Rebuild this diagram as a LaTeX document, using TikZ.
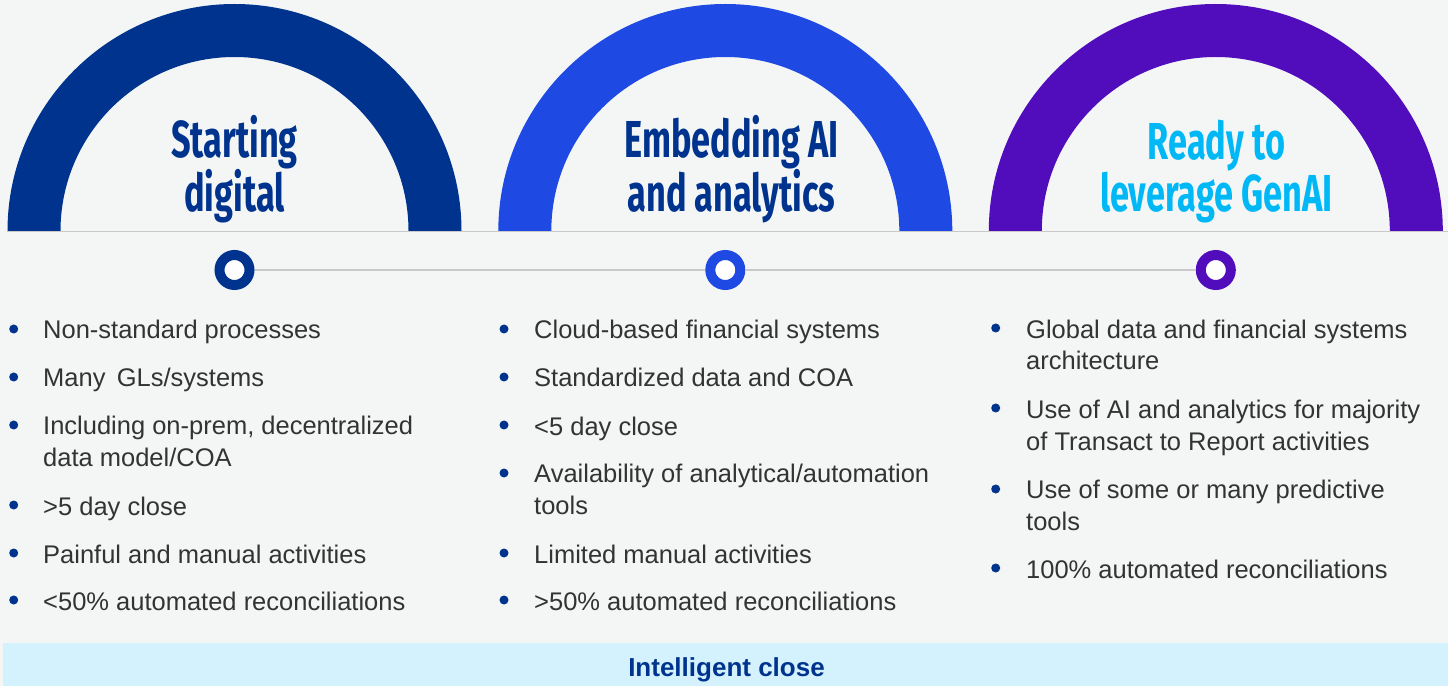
\documentclass[tikz,border=0pt]{standalone}
\usepackage{fontspec}
\setmainfont{Liberation Sans}
\newfontfamily\titlefont{Fira Sans}[FakeStretch=0.66]
\definecolor{bgc}{HTML}{F4F6F6}
\definecolor{bandc}{HTML}{D4F2FD}
\definecolor{cA}{HTML}{00338D}
\definecolor{cB}{HTML}{1E49E2}
\definecolor{cC}{HTML}{510DBC}
\definecolor{cyanT}{HTML}{00B8F5}
\definecolor{txt}{HTML}{333333}
\definecolor{rule}{HTML}{C9C9C9}
\tikzset{
  ring/.style={circle, minimum size=30pt, inner sep=0pt, line width=10pt, fill=white},
  title/.style={font=\titlefont\bfseries\fontsize{52}{48}\selectfont, align=center, anchor=base, inner sep=0pt},
  item/.style={font=\fontsize{25.5}{31.8}\selectfont, text=txt, align=left, anchor=base west, inner sep=0pt},
  graylink/.style={draw=rule, line width=1.5pt},
  dotb/.style={fill=cA}
}
\begin{document}
\begin{tikzpicture}[x=1pt,y=1pt]
\useasboundingbox (0,0) rectangle (1448,686);
\fill[bgc] (0,0) rectangle (1448,686);
% arcs
\fill[cA] (7.5,455) arc[start angle=180,end angle=0,radius=227] -- (408.5,455) arc[start angle=0,end angle=180,radius=174] -- cycle;
\fill[cB] (498.3,455) arc[start angle=180,end angle=0,radius=227] -- (899.3,455) arc[start angle=0,end angle=180,radius=174] -- cycle;
\fill[cC] (988.8,455) arc[start angle=180,end angle=0,radius=227] -- (1389.8,455) arc[start angle=0,end angle=180,radius=174] -- cycle;
% baseline rule
\coordinate (ruleL) at (7,454.5);
\coordinate (ruleR) at (1448,454.5);
\draw[graylink] (ruleL) -- (ruleR);
% titles (base anchor = last line baseline)
\node[title, text=cA] (t1) at (234.5,474) {Starting\\digital};
\node[title, text=cA] (t2) at (731.5,474) {Embedding AI\\and analytics};
\node[title, text=cyanT] (t3) at (1216.5,474) {Ready to\\leverage GenAI};
% timeline
\node[ring, draw=cA] (p1) at (234.5,416) {};
\node[ring, draw=cB] (p2) at (725.3,416) {};
\node[ring, draw=cC] (p3) at (1215.8,416) {};
\draw[graylink] (p1) -- (p2);
\draw[graylink] (p2) -- (p3);
% column 1
\foreach \y in {347,299,251,171,123,76} {\fill[dotb] (13.7,\y+10) circle (4.5);}
\node[item] (a1) at (43,347) {Non-standard processes};
\node[item] (a2) at (43,299) {Many\, GLs/systems};
\node[item] (a3) at (43,219.5) {Including on-prem, decentralized\\data model/COA};
\node[item] (a4) at (43,171) {>5 day close};
\node[item] (a5) at (43,123) {Painful and manual activities};
\node[item] (a6) at (43,76) {<50\% automated reconciliations};
% column 2
\foreach \y in {347,299,251,203,123,76} {\fill[dotb] (504,\y+10) circle (4.5);}
\node[item] (b1) at (534,347) {Cloud-based financial systems};
\node[item] (b2) at (534,299) {Standardized data and COA};
\node[item] (b3) at (534,251) {<5 day close};
\node[item] (b4) at (534,171.5) {Availability of analytical/automation\\tools};
\node[item] (b5) at (534,123) {Limited manual activities};
\node[item] (b6) at (534,76) {>50\% automated reconciliations};
% column 3
\foreach \y in {348,268,187,108} {\fill[dotb] (995.7,\y+10) circle (4.5);}
\node[item] (c1) at (1026,316) {Global data and financial systems\\architecture};
\node[item] (c2) at (1026,236) {Use of AI and analytics for majority\\of Transact to Report activities};
\node[item] (c3) at (1026,155.5) {Use of some or many predictive\\tools};
\node[item] (c4) at (1026,108) {100\% automated reconciliations};
% band
\fill[bandc] (2.7,0) rectangle (1448,43.3);
\node[font=\bfseries\fontsize{26}{30}\selectfont, text=cA, anchor=base, inner sep=0pt] (band) at (726.5,9.3) {Intelligent close};
\end{tikzpicture}
\end{document}
